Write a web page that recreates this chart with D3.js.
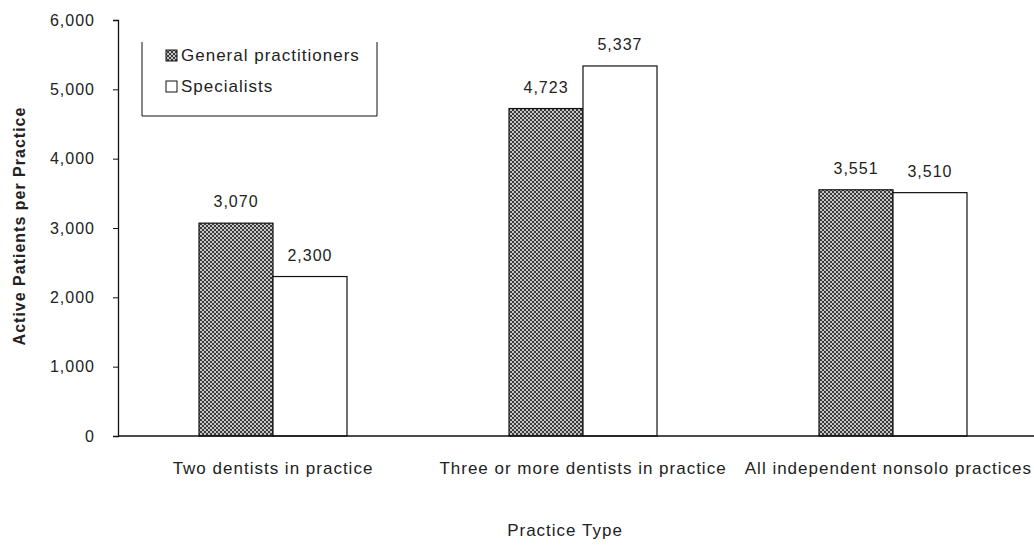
<!DOCTYPE html>
<html>
<head>
<meta charset="utf-8">
<script src="https://cdn.jsdelivr.net/npm/d3@7/dist/d3.min.js"></script>
<style>
  html, body { margin: 0; padding: 0; background: #fff; }
  svg { display: block; font-family: "Liberation Sans", Arial, sans-serif; }
  svg text { letter-spacing: 1px; }
</style>
</head>
<body>
<svg id="chart" width="1034" height="550"></svg>
<script>
// Practice types along the x axis
const categories = [
  "Two dentists in practice",
  "Three or more dentists in practice",
  "All independent nonsolo practices"
];
// Active patients per practice, by dentist type
const generalPractitioners = [3070, 4723, 3551];
const specialists = [2300, 5337, 3510];
const seriesNames = ["General practitioners", "Specialists"];
const yTicks = [0, 1000, 2000, 3000, 4000, 5000, 6000];

const svg = d3.select("#chart");
const margin = { left: 118, right: -14, top: 20, bottom: 114 };
const W = 1034, H = 550;
const plotBottom = H - margin.bottom; // 436
const plotRight = W - margin.right;
const ink = "#222";

// Fill pattern for general practitioner bars: dense crosshatch
const defs = svg.append("defs");
const pat = defs.append("pattern")
  .attr("id", "hatch")
  .attr("patternUnits", "userSpaceOnUse")
  .attr("width", 4).attr("height", 4);
pat.append("rect").attr("width", 4).attr("height", 4).attr("fill", "#c4c4c4");
pat.append("path").attr("d", "M0,0 L4,4 M4,0 L0,4")
  .attr("stroke", "#2a2a2a").attr("stroke-width", 0.9);

const x = d3.scaleBand().domain(categories)
  .range([margin.left, plotRight]).paddingInner(0).paddingOuter(0);
const y = d3.scaleLinear().domain([0, 6000]).range([plotBottom, margin.top]);

const barW = 74;

const rows = categories.map((c, i) => ({
  cat: c,
  values: [generalPractitioners[i], specialists[i]]
}));

// y axis
const yAxis = d3.axisLeft(y).tickValues(yTicks).tickSize(5).tickPadding(18)
  .tickFormat(d3.format(","));
const gy = svg.append("g").attr("transform", `translate(${margin.left},0)`).call(yAxis);
gy.select(".domain").attr("stroke", "#111").attr("stroke-width", 1.3);
gy.selectAll(".tick line").attr("stroke", "#111");
gy.selectAll(".tick text").attr("font-size", 16).attr("fill", ink)
  .attr("font-family", "Liberation Sans, Arial, sans-serif");

// Bars
const groups = svg.append("g").selectAll("g").data(rows).join("g")
  .attr("transform", d => `translate(${x(d.cat) + x.bandwidth() / 2},0)`);

groups.selectAll("rect").data(d => d.values).join("rect")
  .attr("x", (d, j) => j === 0 ? -barW : 0)
  .attr("y", d => y(d))
  .attr("width", barW)
  .attr("height", d => plotBottom - y(d))
  .attr("fill", (d, j) => j === 0 ? "url(#hatch)" : "#fff")
  .attr("stroke", "#111")
  .attr("stroke-width", 1.2);

// Value labels
groups.selectAll("text").data(d => d.values).join("text")
  .attr("x", (d, j) => j === 0 ? -barW / 2 : barW / 2)
  .attr("y", d => y(d) - 16)
  .attr("text-anchor", "middle")
  .attr("font-size", 16)
  .attr("fill", ink)
  .text(d => d3.format(",")(d));

// x axis baseline and category labels
svg.append("line")
  .attr("x1", margin.left).attr("x2", W)
  .attr("y1", plotBottom).attr("y2", plotBottom)
  .attr("stroke", "#111").attr("stroke-width", 1.3);

// Category labels are centred under their group, but kept inside the canvas
svg.append("g").selectAll("text").data(categories).join("text")
  .attr("y", 474)
  .attr("text-anchor", "middle")
  .attr("font-size", 17)
  .attr("fill", ink)
  .text(d => d)
  .attr("x", function (d) {
    const half = this.getComputedTextLength() / 2;
    const cx = x(d) + x.bandwidth() / 2;
    return Math.min(cx, W - 2 - half);
  });

// Axis titles
svg.append("text")
  .attr("transform", "translate(25,226) rotate(-90)")
  .attr("text-anchor", "middle")
  .attr("font-size", 16)
  .attr("font-weight", "bold")
  .attr("fill", ink)
  .text("Active Patients per Practice");

svg.append("text")
  .attr("x", 565).attr("y", 536)
  .attr("text-anchor", "middle")
  .attr("font-size", 17)
  .attr("fill", ink)
  .text("Practice Type");

// Legend
const lg = svg.append("g");
const lx0 = 142, lx1 = 377, ly0 = 42, ly1 = 116;
lg.append("path")
  .attr("d", `M${lx0},${ly0} V${ly1} H${lx1} V${ly0}`)
  .attr("fill", "none").attr("stroke", "#111").attr("stroke-width", 1);
seriesNames.forEach((name, i) => {
  const cy = 55 + i * 31;
  lg.append("rect")
    .attr("x", 166).attr("y", cy - 5).attr("width", 11).attr("height", 11)
    .attr("fill", i === 0 ? "url(#hatch)" : "#fff")
    .attr("stroke", "#111").attr("stroke-width", 1);
  lg.append("text")
    .attr("x", 181).attr("y", cy + 6)
    .attr("font-size", 17).attr("fill", ink)
    .text(name);
});
</script>
</body>
</html>
